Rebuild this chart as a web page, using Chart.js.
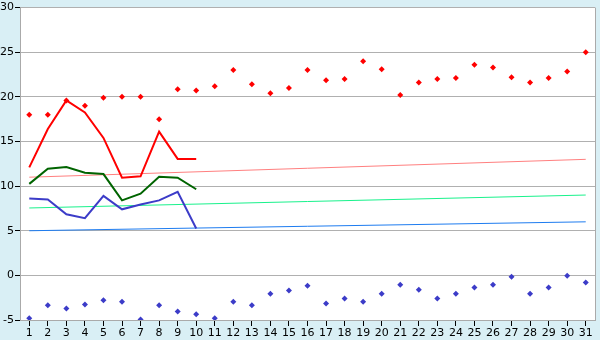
<!DOCTYPE html>
<html>
<head>
<meta charset="utf-8">
<script src="https://cdn.jsdelivr.net/npm/chart.js@4"></script>
<style>
  html, body { margin: 0; padding: 0; background: #d9eff5; }
  #wrap { width: 600px; height: 340px; }
</style>
</head>
<body>
<div id="wrap"><canvas id="c" width="600" height="340"></canvas></div>
<script>
// 日期
const days = ['1','2','3','4','5','6','7','8','9','10','11','12','13','14','15','16',
  '17','18','19','20','21','22','23','24','25','26','27','28','29','30','31'];
const yTicks = [-5, 0, 5, 10, 15, 20, 25, 30];

// 最高温 (红点)
const maxPoints = [18, 18, 19.6, 19, 19.9, 20, 20, 17.5, 20.85, 20.7, 21.2, 23, 21.4, 20.4, 21,
  23, 21.85, 22, 24, 23.1, 20.2, 21.6, 22, 22.1, 23.6, 23.3, 22.2, 21.6, 22.1, 22.85, 25];
// 最低温 (蓝点)
const minPoints = [-4.8, -3.35, -3.7, -3.25, -2.8, -2.95, -4.95, -3.35, -4.05, -4.35, -4.8, -2.95,
  -3.35, -2.05, -1.7, -1.15, -3.15, -2.6, -2.95, -2.05, -1.05, -1.6, -2.6, -2.05, -1.35, -1.05,
  -0.15, -2.05, -1.35, -0.05, -0.8];

// 前10天实测曲线
const redLine = [12.1, 16.4, 19.6, 18.25, 15.4, 10.95, 11.1, 16.1, 13.05, 13.05];
const greenLine = [10.25, 11.95, 12.15, 11.5, 11.35, 8.4, 9.15, 11.05, 10.95, 9.65];
const blueLine = [8.6, 8.5, 6.85, 6.4, 8.9, 7.4, 7.95, 8.4, 9.35, 5.25];

// 趋势线端点 (第1天, 第31天)
const redTrend = [11.0, 13.0];
const greenTrend = [7.55, 9.0];
const blueTrend = [5.0, 6.0];

const ends = (v) => [{ x: days[0], y: v[0] }, { x: days[days.length - 1], y: v[1] }];

const bgPlugin = {
  id: 'bg',
  beforeDraw(chart) {
    const { ctx, chartArea: a } = chart;
    ctx.save();
    ctx.fillStyle = '#d9eff5';
    ctx.fillRect(0, 0, chart.width, chart.height);
    ctx.fillStyle = '#ffffff';
    ctx.fillRect(a.left, a.top, a.right - a.left, a.bottom - a.top);
    ctx.restore();
  },
  afterDraw(chart) {
    const { ctx, chartArea: a } = chart;
    ctx.save();
    ctx.strokeStyle = '#aaaaaa';
    ctx.lineWidth = 1;
    ctx.beginPath();
    ctx.moveTo(a.right + 0.5, a.top);
    ctx.lineTo(a.right + 0.5, a.bottom);
    ctx.stroke();
    ctx.restore();
  }
};

const pointSet = (data, color) => ({
  data,
  showLine: false,
  pointStyle: 'rectRot',
  pointRadius: 3,
  pointBorderWidth: 0,
  backgroundColor: color,
  borderColor: color,
  order: 0,
});

const lineSet = (data, color, width, order) => ({
  data,
  borderColor: color,
  borderWidth: width,
  pointRadius: 0,
  tension: 0,
  fill: false,
  order,
});

new Chart(document.getElementById('c'), {
  type: 'line',
  data: {
    labels: days,
    datasets: [
      lineSet(ends(redTrend), '#ff8080', 1, 5),
      lineSet(ends(greenTrend), '#19f28c', 1, 5),
      lineSet(ends(blueTrend), '#1e7cf0', 1, 5),
      lineSet(redLine, '#ff0000', 2, 2),
      lineSet(greenLine, '#006400', 2, 2),
      lineSet(blueLine, '#3c3cc8', 2, 2),
      pointSet(maxPoints, '#ff0000'),
      pointSet(minPoints, '#3c3cc8'),
    ],
  },
  options: {
    responsive: false,
    animation: false,
    layout: { padding: { top: 5, right: 5, left: 0, bottom: 0 } },
    plugins: {
      legend: { display: false },
      tooltip: { enabled: false },
    },
    scales: {
      x: {
        type: 'category',
        offset: true,
        afterFit: (s) => { s.height = 20; },
        grid: { drawOnChartArea: false, drawTicks: true, tickLength: 6, color: '#000000' },
        border: { color: '#aaaaaa' },
        ticks: {
          color: '#000000',
          font: { family: 'DejaVu Sans', size: 11 },
          padding: 1,
          maxRotation: 0,
          autoSkip: false,
        },
      },
      y: {
        min: -5,
        max: 30,
        afterFit: (s) => { s.width = 20; },
        afterBuildTicks: (s) => { s.ticks = yTicks.map(v => ({ value: v })); },
        grid: { color: '#b0b0b0', tickLength: 5, tickColor: '#000000' },
        border: { color: '#aaaaaa' },
        ticks: {
          color: '#000000',
          font: { family: 'DejaVu Sans', size: 11 },
          padding: 1,
        },
      },
    },
  },
  plugins: [bgPlugin],
});
</script>
</body>
</html>
